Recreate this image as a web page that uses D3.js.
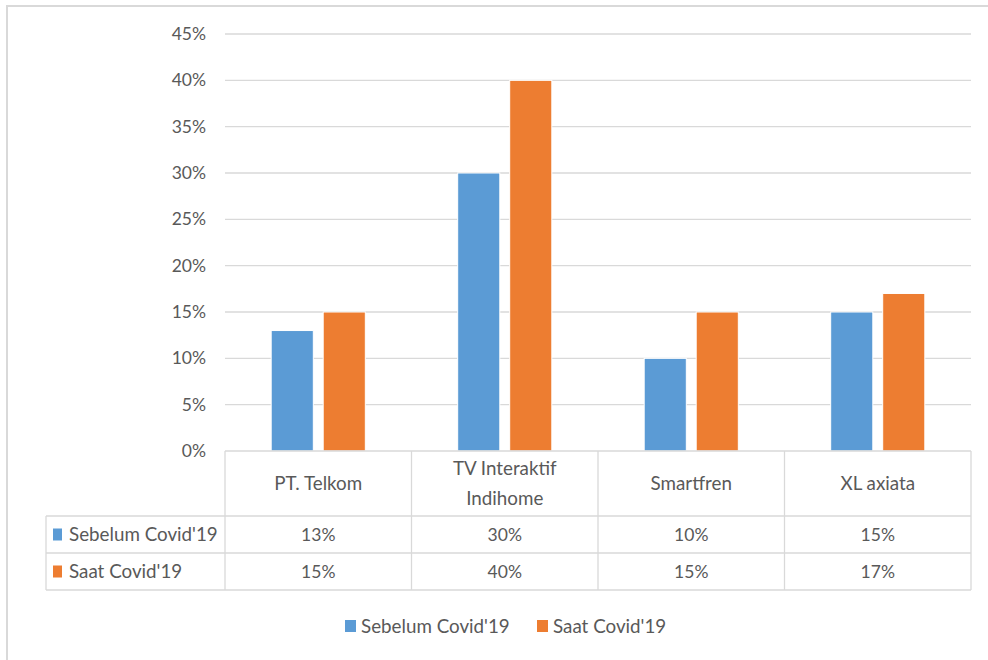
<!DOCTYPE html>
<html>
<head>
<meta charset="utf-8">
<script src="https://cdn.jsdelivr.net/npm/d3@7"></script>
<style>
  body { margin: 0; background: #fff; }
  text { font-family: Lato, "Open Sans", sans-serif; fill: #595959; }
</style>
</head>
<body>
<svg id="chart"></svg>
<script>
const categories = [["PT. Telkom"], ["TV Interaktif", "Indihome"], ["Smartfren"], ["XL axiata"]];
const seriesNames = ["Sebelum Covid'19", "Saat Covid'19"];
const sebelum = [13, 30, 10, 15];
const saat = [15, 40, 15, 17];
const yTicks = [0, 5, 10, 15, 20, 25, 30, 35, 40, 45];
const colors = ["#5b9bd5", "#ed7d31"];

const W = 988, H = 660;
const wordSize = "18.8px", numSize = "17.5px";
const svg = d3.select("#chart").attr("width", W).attr("height", H);

// outer frame (only top/left visible in picture)
svg.append("rect")
  .attr("x", 7).attr("y", 6).attr("width", 1000).attr("height", 700)
  .attr("fill", "none").attr("stroke", "#d9d9d9").attr("stroke-width", 2);

const plotLeft = 225, plotRight = 971, plotTop = 34, plotBottom = 451;
const catKeys = categories.map(c => c.join(" "));

const x0 = d3.scaleBand().domain(catKeys).range([plotLeft, plotRight]).padding(0);
const x1 = d3.scaleBand().domain(seriesNames).range([0, x0.bandwidth()])
  .paddingInner(0.19).paddingOuter(0.888);
const y = d3.scaleLinear().domain([0, 45]).range([plotBottom, plotTop]);

// gridlines
svg.append("g").selectAll("line").data(yTicks.filter(d => d > 0)).join("line")
  .attr("x1", plotLeft).attr("x2", plotRight)
  .attr("y1", d => y(d)).attr("y2", d => y(d))
  .attr("stroke", "#d9d9d9").attr("stroke-width", 1.3);

// y axis labels
svg.append("g").selectAll("text").data(yTicks).join("text")
  .attr("x", 206).attr("y", d => y(d)).attr("dy", "0.35em")
  .attr("text-anchor", "end").style("font-size", numSize)
  .text(d => d + "%");

// bars
const rows = [sebelum, saat];
const g = svg.append("g");
rows.forEach((vals, si) => {
  g.selectAll(".s" + si).data(vals).join("rect")
    .attr("class", "s" + si)
    .attr("x", (d, i) => x0(catKeys[i]) + x1(seriesNames[si]))
    .attr("width", x1.bandwidth())
    .attr("y", d => y(d))
    .attr("height", d => y(0) - y(d))
    .attr("fill", colors[si])
    .attr("stroke", "#fff").attr("stroke-width", 1);
});

// data table
const tableLeft = 46, headBottom = 516, row1Bottom = 553, row2Bottom = 590;
const tl = svg.append("g").attr("stroke", "#d9d9d9").attr("stroke-width", 1.3);
[plotLeft, ...catKeys.map(k => x0(k) + x0.bandwidth())].forEach(xv => {
  tl.append("line").attr("x1", xv).attr("x2", xv).attr("y1", plotBottom).attr("y2", row2Bottom);
});
tl.append("line").attr("x1", tableLeft).attr("x2", tableLeft).attr("y1", headBottom).attr("y2", row2Bottom);
tl.append("line").attr("x1", plotLeft).attr("x2", plotRight).attr("y1", plotBottom).attr("y2", plotBottom);
[headBottom, row1Bottom, row2Bottom].forEach(yv => {
  tl.append("line").attr("x1", tableLeft).attr("x2", plotRight).attr("y1", yv).attr("y2", yv);
});

// header labels
categories.forEach((lines, i) => {
  const cx = x0(catKeys[i]) + x0.bandwidth() / 2;
  const midY = (plotBottom + headBottom) / 2;
  const t = svg.append("text").attr("text-anchor", "middle").style("font-size", wordSize);
  lines.forEach((ln, li) => {
    t.append("tspan").attr("x", cx)
      .attr("y", midY + (li - (lines.length - 1) / 2) * 30)
      .attr("dy", "0.35em").text(ln);
  });
});

// table rows
const rowMids = [(headBottom + row1Bottom) / 2, (row1Bottom + row2Bottom) / 2];
rows.forEach((vals, si) => {
  svg.append("rect").attr("x", 53).attr("y", rowMids[si] - 6)
    .attr("width", 9).attr("height", 12).attr("fill", colors[si]);
  svg.append("text").attr("x", 69).attr("y", rowMids[si]).attr("dy", "0.35em")
    .style("font-size", wordSize).text(seriesNames[si]);
  svg.append("g").selectAll("text").data(vals).join("text")
    .attr("x", (d, i) => x0(catKeys[i]) + x0.bandwidth() / 2)
    .attr("y", rowMids[si]).attr("dy", "0.35em")
    .attr("text-anchor", "middle").style("font-size", numSize)
    .text(d => d + "%");
});

// legend
const legendX = [345, 537];
seriesNames.forEach((name, si) => {
  svg.append("rect").attr("x", legendX[si]).attr("y", 620)
    .attr("width", 11).attr("height", 12).attr("fill", colors[si]);
  svg.append("text").attr("x", legendX[si] + 16).attr("y", 626).attr("dy", "0.35em")
    .style("font-size", wordSize).text(name);
});
</script>
</body>
</html>
